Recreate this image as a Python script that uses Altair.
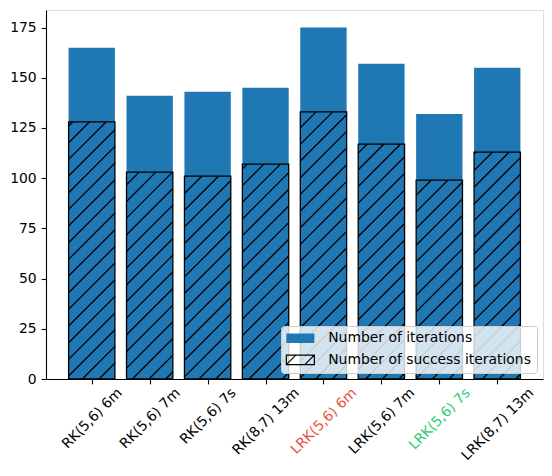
import altair as alt
import pandas as pd

# ---- data ----
names = ["RK(5,6) 6m", "RK(5,6) 7m", "RK(5,6) 7s", "RK(8,7) 13m",
         "LRK(5,6) 6m", "LRK(5,6) 7m", "LRK(5,6) 7s", "LRK(8,7) 13m"]
iterations = [165, 141, 143, 145, 175, 157, 132, 155]
success = [128, 103, 101, 107, 133, 117, 99, 113]
y_ticks = [0, 25, 50, 75, 100, 125, 150, 175]
red_label = "LRK(5,6) 6m"
green_label = "LRK(5,6) 7s"
series = ["Number of iterations", "Number of success iterations"]

# ---- layout / style ----
W, H = 497, 369
XMIN, XMAX = -0.79, 7.79
YMAX = 183.75
BAR_W = 0.8
FS = 13.9
FONT = "DejaVu Sans"
BLUE = "#1f77b4"

pos = list(range(len(names)))
bars = pd.DataFrame({
    "pos": pos,
    "name": names,
    "total": iterations,
    "success": success,
})
bars["x0"] = bars["pos"] - BAR_W / 2
bars["x1"] = bars["pos"] + BAR_W / 2

# hatch lines ('/' pattern, 45 degrees in pixel space) clipped to success bars
sx = W / (XMAX - XMIN)
sy = H / YMAX
SP = 100 / 6.0
PHASE = 3.0
rows = []
for i, v in zip(pos, success):
    X0 = (i - BAR_W / 2 - XMIN) * sx
    X1 = (i + BAR_W / 2 - XMIN) * sx
    V = v * sy
    k0 = int((X0 - V - PHASE) // SP) - 1
    k1 = int((X1 - PHASE) // SP) + 1
    for k in range(k0, k1 + 1):
        c = PHASE + k * SP
        ys = max(0.0, X0 - c)
        ye = min(V, X1 - c)
        if ye > ys + 0.3:
            rows.append({"hx": (ys + c) / sx + XMIN, "hy": ys / sy,
                         "hx2": (ye + c) / sx + XMIN, "hy2": ye / sy})
hatch = pd.DataFrame(rows)

# approximate DejaVu Sans advance widths (em) for label centring
cw = {"R": .695, "K": .656, "(": .390, ")": .390, ",": .318, " ": .318,
      "m": .974, "s": .521, "L": .557}
def text_len(t):
    return sum(cw.get(ch, .636) for ch in t) * FS

offset_cond = {"condition": [{"test": f"datum.value == {i}",
                              "value": round(0.354 * text_len(n), 1)}
                             for i, n in enumerate(names)],
               "value": 0}
color_cond = {"condition": [{"test": f"datum.value == {names.index(red_label)}", "value": "#e8503e"},
                            {"test": f"datum.value == {names.index(green_label)}", "value": "#2ecc71"}],
              "value": "black"}

label_expr = "[" + ",".join("'" + n + "'" for n in names) + "][datum.value]"

x_scale = alt.Scale(domain=[XMIN, XMAX], nice=False, zero=False)
y_scale = alt.Scale(domain=[0, YMAX], nice=False, zero=False)

x_axis = alt.Axis(values=pos, labelExpr=label_expr, labelAngle=315,
                  labelAlign="right", labelBaseline="middle",
                  labelOffset=offset_cond, labelColor=color_cond,
                  labelFontSize=FS, labelFont=FONT, labelPadding=6.5,
                  tickSize=4.9, tickColor="black", tickWidth=1.1,
                  domainColor="black", domainWidth=1.1, grid=False, title=None,
                  labelOverlap=False, labelBound=False, labelFlush=False)
y_axis = alt.Axis(values=y_ticks, labelFontSize=FS, labelFont=FONT,
                  labelColor="black", labelPadding=4.9, tickSize=4.9,
                  tickColor="black", tickWidth=1.1, domainColor="black",
                  domainWidth=1.1, grid=False, title=None)

# legend handle: 28x9.4 px patch (outline + two hatch strokes), drawn at scale 5
hatch_path = ("M-1.38,-0.94H4.22V0.94H-1.38Z "
              "M-1.38,0.94L0.5,-0.94 M2.32,0.94L4.2,-0.94")
legend = alt.Legend(title=None, orient="bottom-right", offset=6, padding=5.3,
                    fillColor="rgba(255,255,255,0.8)", strokeColor="#cccccc",
                    cornerRadius=3, labelFontSize=FS, labelFont=FONT,
                    labelColor="black", labelLimit=400, symbolType=hatch_path,
                    symbolSize=100, symbolStrokeWidth=1.2, rowPadding=5.6,
                    labelOffset=28)

fill_enc = alt.Fill("series:N", scale=alt.Scale(domain=series, range=[BLUE, "rgba(0,0,0,0)"]),
                    legend=legend)
stroke_enc = alt.Stroke("series:N", scale=alt.Scale(domain=series, range=["rgba(0,0,0,0)", "black"]),
                        legend=legend)

X = lambda f: alt.X(f, scale=x_scale, axis=x_axis)
Y = lambda f: alt.Y(f, scale=y_scale, axis=y_axis)

total_layer = alt.Chart(bars).transform_calculate(series=f"'{series[0]}'").mark_rect().encode(
    x=X("x0:Q"), x2="x1:Q", y=Y("total:Q"), y2=alt.datum(0), fill=fill_enc)

hatch_layer = alt.Chart(hatch).mark_rule(color="black", strokeWidth=1.3).encode(
    x=X("hx:Q"), x2="hx2:Q", y=Y("hy:Q"), y2="hy2:Q")

success_layer = alt.Chart(bars).transform_calculate(series=f"'{series[1]}'").mark_rect(
    strokeWidth=1.3).encode(
    x=X("x0:Q"), x2="x1:Q", y=Y("success:Q"), y2=alt.datum(0),
    fill=fill_enc, stroke=stroke_enc)

chart = alt.layer(total_layer, hatch_layer, success_layer).properties(
    width=W, height=H,
    autosize=alt.AutoSizeParams(type="none"),
    padding={"left": 38, "top": 2, "right": 1, "bottom": 89},
    background="white",
).configure_view(stroke="black", strokeWidth=1.1).configure(font=FONT)

chart.save("out.html", embed_options={"renderer": "svg", "actions": False})
